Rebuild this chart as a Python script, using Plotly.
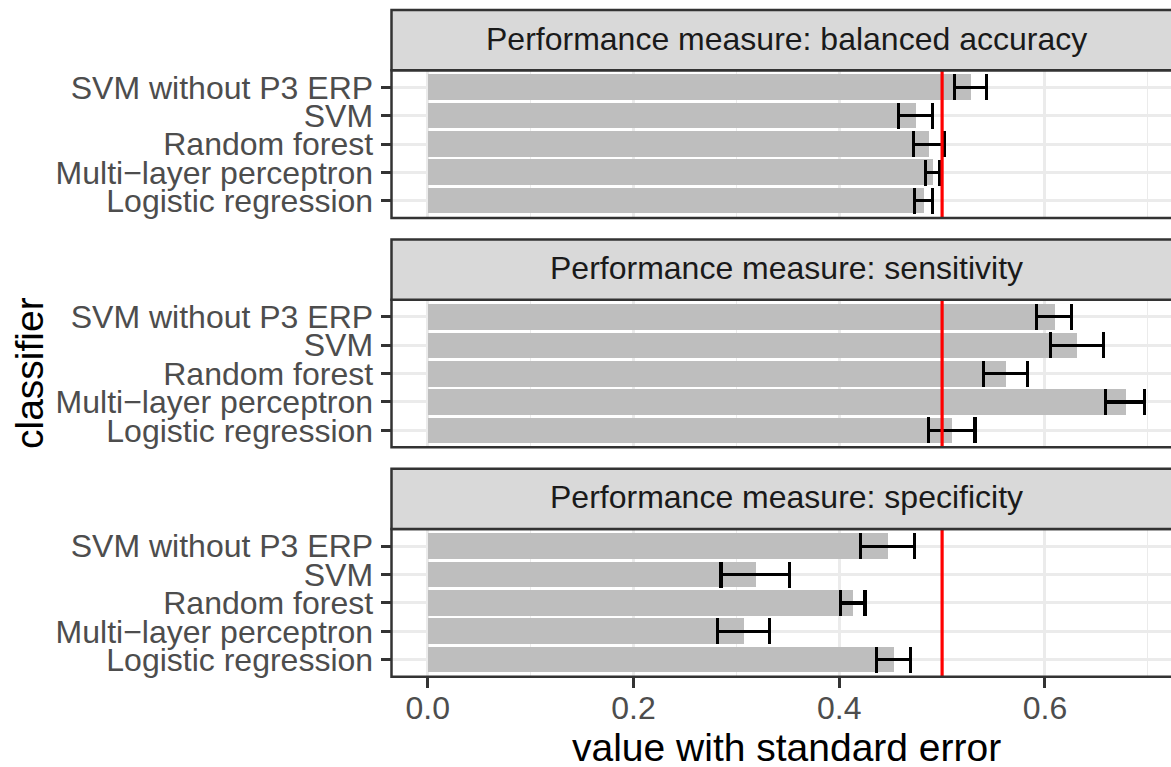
import plotly.graph_objects as go

W, H = 1171, 767

# classifiers, bottom to top
classifiers = ["Logistic regression", "Multi−layer perceptron", "Random forest",
               "SVM", "SVM without P3 ERP"]
measures = ["balanced accuracy", "sensitivity", "specificity"]

balanced_accuracy = [0.482, 0.491, 0.487, 0.4745, 0.5275]
balanced_accuracy_se = [0.0088, 0.0068, 0.015, 0.0165, 0.0155]

sensitivity = [0.5095, 0.678, 0.5615, 0.631, 0.609]
sensitivity_se = [0.0225, 0.019, 0.0215, 0.026, 0.017]

specificity = [0.4525, 0.307, 0.413, 0.3185, 0.447]
specificity_se = [0.0165, 0.025, 0.012, 0.0335, 0.026]

chance_level = 0.5
x_ticks = [0.0, 0.2, 0.4, 0.6]

values = [balanced_accuracy, sensitivity, specificity]
errors = [balanced_accuracy_se, sensitivity_se, specificity_se]

FONT = "Liberation Sans, Arial, Helvetica, sans-serif"
BORDER = "#333333"
GRID = "#EBEBEB"

# panel geometry (pixels from top-left)
left_px = 391.5
strip_h = 60.5
panel_h = 148.0
step = 230.0
first_top = 9.0
xrange_ = [-0.0352, 0.7225]


def py(px):
    return 1 - px / H


fig = go.Figure()
shapes = []
annotations = []

for i, (m, v, e) in enumerate(zip(measures, values, errors)):
    n = "" if i == 0 else str(i + 1)
    s_top = first_top + i * step
    p_top = s_top + strip_h
    p_bot = p_top + panel_h

    fig.add_trace(go.Bar(
        x=v, y=classifiers, orientation="h", width=0.9,
        marker=dict(color="#BEBEBE", line=dict(width=0)),
        error_x=dict(type="data", array=e, color="black", thickness=3.2, width=13),
        xaxis="x" + n, yaxis="y" + n, showlegend=False,
    ))

    last = i == len(measures) - 1
    fig.update_layout(**{
        "xaxis" + n: dict(
            domain=[left_px / W, 1.0], anchor="y" + n, range=xrange_,
            tickvals=x_ticks, ticktext=[f"{t:.1f}" for t in x_ticks],
            showticklabels=last, ticks="outside" if last else "",
            ticklen=10, tickwidth=2.5, tickcolor=BORDER,
            ticklabelstandoff=-7,
            tickfont=dict(family=FONT, size=32, color="#4D4D4D"),
            showgrid=True, gridcolor=GRID, gridwidth=2.5, zeroline=False,
            minor=dict(dtick=0.1, tick0=0, showgrid=True, gridcolor=GRID,
                       gridwidth=1.3, ticks=""),
            showline=False,
        ),
        "yaxis" + n: dict(
            domain=[py(p_bot), py(p_top)], anchor="x" + n, type="category",
            categoryorder="array", categoryarray=classifiers,
            tickmode="array", tickvals=classifiers, ticktext=classifiers,
            range=[-0.6, len(classifiers) - 0.4],
            ticks="outside", ticklen=10, tickwidth=2.5, tickcolor=BORDER,
            ticklabelstandoff=1,
            tickfont=dict(family=FONT, size=32, color="#4D4D4D"),
            showgrid=True, gridcolor=GRID, gridwidth=2.5, zeroline=False,
            showline=False,
        ),
    })

    # chance level
    shapes.append(dict(type="line", xref="x" + n, yref="y" + n + " domain",
                       x0=chance_level, x1=chance_level, y0=0, y1=1,
                       line=dict(color="red", width=3.2), layer="above"))
    # panel frame
    shapes.append(dict(type="rect", xref="paper", yref="paper",
                       x0=left_px / W, x1=1.05, y0=py(p_bot), y1=py(p_top),
                       line=dict(color=BORDER, width=2.5),
                       fillcolor="rgba(0,0,0,0)", layer="above"))
    # strip
    shapes.append(dict(type="rect", xref="paper", yref="paper",
                       x0=left_px / W, x1=1.05, y0=py(p_top), y1=py(s_top),
                       line=dict(color=BORDER, width=2.5),
                       fillcolor="#D9D9D9", layer="above"))
    annotations.append(dict(
        text=f"Performance measure: {m}", xref="paper", yref="paper",
        x=786 / W, y=py(s_top + strip_h / 2 - 1.5), xanchor="center",
        yanchor="middle", showarrow=False,
        font=dict(family=FONT, size=32, color="#1A1A1A"),
    ))

panels_top = first_top + strip_h
panels_bot = first_top + 2 * step + strip_h + panel_h

annotations.append(dict(
    text="value with standard error", xref="paper", yref="paper",
    x=786 / W, y=py(748), xanchor="center", yanchor="middle", showarrow=False,
    font=dict(family=FONT, size=39, color="black"),
))
annotations.append(dict(
    text="classifier", xref="paper", yref="paper", textangle=-90,
    x=29.5 / W, y=py((panels_top + panels_bot) / 2), xanchor="center",
    yanchor="middle", showarrow=False,
    font=dict(family=FONT, size=39, color="black"),
))

fig.update_layout(
    width=W, height=H, autosize=False,
    margin=dict(l=0, r=0, t=0, b=0),
    paper_bgcolor="white", plot_bgcolor="white",
    shapes=shapes, annotations=annotations, bargap=0,
)

fig.write_html("out.html")
